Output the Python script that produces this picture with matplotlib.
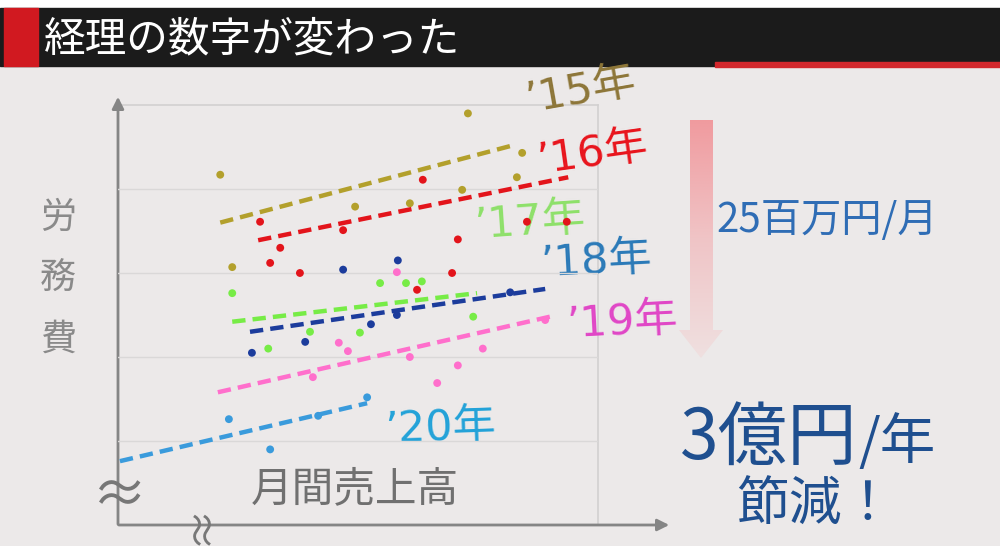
import numpy as np
import matplotlib
matplotlib.use("Agg")
import matplotlib.pyplot as plt
from matplotlib.patches import Rectangle, Polygon

plt.rcParams['font.family'] = ['Noto Sans CJK JP', 'DejaVu Sans']

# scatter data: x = monthly sales (0-100), y = labour cost (0-5), per year
years = ["’15年", "’16年", "’17年", "’18年", "’19年", "’20年"]
colors = ['#b3a02c', '#e3141b', '#77ec46', '#1c3c9c', '#ff6fcc', '#3a9bdc']
label_colors = ['#8d7638', '#e8141c', '#8ee06a', '#2a7ab8', '#e046c6', '#22a2d8']

x15 = [21.3, 72.9, 84.2, 83.1, 71.7, 49.4, 60.8, 23.8]
y15 = [4.17, 4.90, 4.43, 4.14, 3.99, 3.79, 3.83, 3.07]
x16 = [29.6, 33.8, 31.7, 37.9, 46.9, 63.5, 70.8, 69.6, 85.2, 93.5, 62.3]
y16 = [3.61, 3.30, 3.12, 3.00, 3.51, 4.11, 3.40, 3.00, 3.61, 3.61, 2.80]
x17 = [23.8, 31.3, 40.0, 50.4, 54.6, 60.0, 63.3, 74.0]
y17 = [2.76, 2.10, 2.30, 2.29, 2.88, 2.88, 2.90, 2.48]
x18 = [46.9, 58.3, 27.9, 39.0, 52.7, 58.1, 81.7]
y18 = [3.04, 3.15, 2.05, 2.18, 2.39, 2.50, 2.77]
x19 = [58.1, 46.0, 47.9, 40.6, 60.8, 66.5, 70.8, 76.0, 89.0]
y19 = [3.01, 2.17, 2.07, 1.76, 2.00, 1.69, 1.90, 2.10, 2.44]
x20 = [23.1, 31.7, 51.9, 41.7]
y20 = [1.26, 0.90, 1.52, 1.30]

# trend line end points per year
trend_x = [[21.3, 82.3], [29.2, 93.8], [23.8, 74.8], [27.5, 89.0], [20.8, 90.0], [0.4, 51.9]]
trend_y = [[3.60, 4.52], [3.39, 4.14], [2.42, 2.76], [2.30, 2.81], [1.58, 2.48], [0.76, 1.45]]

xs = [x15, x16, x17, x18, x19, x20]
ys = [y15, y16, y17, y18, y19, y20]

fig = plt.figure(figsize=(10, 5.46), dpi=100)
fig.patch.set_facecolor('#ece9e9')

# background / decoration layer in pixel coordinates
bg = fig.add_axes([0, 0, 1, 1])
bg.set_xlim(0, 1000)
bg.set_ylim(546, 0)
bg.axis('off')

bg.add_patch(Rectangle((0, 0), 1000, 8, color='white', zorder=1))
bg.add_patch(Rectangle((0, 8), 1000, 58, color='#1b1b1b', zorder=1))
bg.add_patch(Rectangle((4, 8), 34, 58, color='#d11920', zorder=2))
bg.add_patch(Rectangle((715, 62), 285, 5, color='#d3272c', zorder=2))
bg.text(44, 40, '経理の数字が変わった', color='white', fontsize=30,
        va='center', ha='left', zorder=3)

# plot frame lines
bg.plot([118, 598], [105, 105], color='#d2d0d0', lw=1.2, zorder=1)
bg.plot([598, 598], [105, 525], color='#d2d0d0', lw=1.2, zorder=1)

# axis arrows
bg.annotate('', xy=(118, 94), xytext=(118, 527),
            arrowprops=dict(arrowstyle='-|>,head_width=0.35,head_length=0.7',
                            color='#858585', lw=2), zorder=4)
bg.annotate('', xy=(672, 525), xytext=(116, 525),
            arrowprops=dict(arrowstyle='-|>,head_width=0.35,head_length=0.7',
                            color='#858585', lw=2), zorder=4)

# break marks
bg.text(120, 497, '≈', fontsize=40, color='#777777', ha='center', va='center', zorder=5)
bg.text(202, 524, '≈', fontsize=30, color='#777777', ha='center', va='center',
        rotation=90, zorder=5)

# axis titles
for i, ch in enumerate('労務費'):
    bg.text(58, 218 + i * 61, ch, fontsize=26, color='#8a8a8a', ha='center', va='center')
bg.text(355, 490, '月間売上高', fontsize=30, color='#707070', ha='center', va='center')

# gradient arrow
arrow = Polygon([(690, 120), (713, 120), (713, 330), (723, 330), (701, 358),
                 (679, 330), (690, 330)], closed=True, facecolor='none',
                edgecolor='none')
bg.add_patch(arrow)
grad = np.linspace(0, 1, 256).reshape(-1, 1)
cmap = matplotlib.colors.LinearSegmentedColormap.from_list('g', ['#f09a9e', '#f0c4c6', '#efe0e0'])
im = bg.imshow(grad, extent=(675, 725, 358, 118), cmap=cmap, aspect='auto', zorder=2)
im.set_clip_path(arrow)
bg.set_xlim(0, 1000)
bg.set_ylim(546, 0)

bg.text(827, 221, '25百万円/月', fontsize=29, color='#2f6db5', ha='center', va='center')
bg.text(680, 459, '3億円', fontsize=50, color='#1f4f8f', ha='left', va='baseline')
bg.text(858, 459, '/年', fontsize=40, color='#1f4f8f', ha='left', va='baseline')
bg.text(815, 505, '節減！', fontsize=38, color='#1f4f8f', ha='center', va='center')

# year labels
label_pos = [(580, 91), (592, 153), (530, 222), (596, 261), (622, 322), (440, 428)]
label_rot = [10, 8, 4, 3, 3, 2]
for (lx, ly), t, c, r in zip(label_pos, years, label_colors, label_rot):
    bg.text(lx, ly, t, fontsize=31, color=c, ha='center', va='center', rotation=r,
            zorder=6, family=['DejaVu Sans', 'Noto Sans CJK JP'])

# data axes
ax = fig.add_axes([118 / 1000, (546 - 525) / 546, 480 / 1000, 420 / 546])
ax.set_xlim(0, 100)
ax.set_ylim(0, 5)
ax.patch.set_alpha(0)
for s in ax.spines.values():
    s.set_visible(False)
ax.set_xticks([])
ax.set_yticks([1, 2, 3, 4])
ax.tick_params(left=False, labelleft=False)
ax.grid(axis='y', color='#dad8d8', lw=1)

for x, y, c, tx, ty in zip(xs, ys, colors, trend_x, trend_y):
    ax.scatter(x, y, s=32, color=c, zorder=3, edgecolors='none')
    ax.plot(tx, ty, color=c, lw=3.2, ls=(0, (3, 1.6)), zorder=4)

fig.savefig('out.png', dpi=100, facecolor=fig.get_facecolor())
